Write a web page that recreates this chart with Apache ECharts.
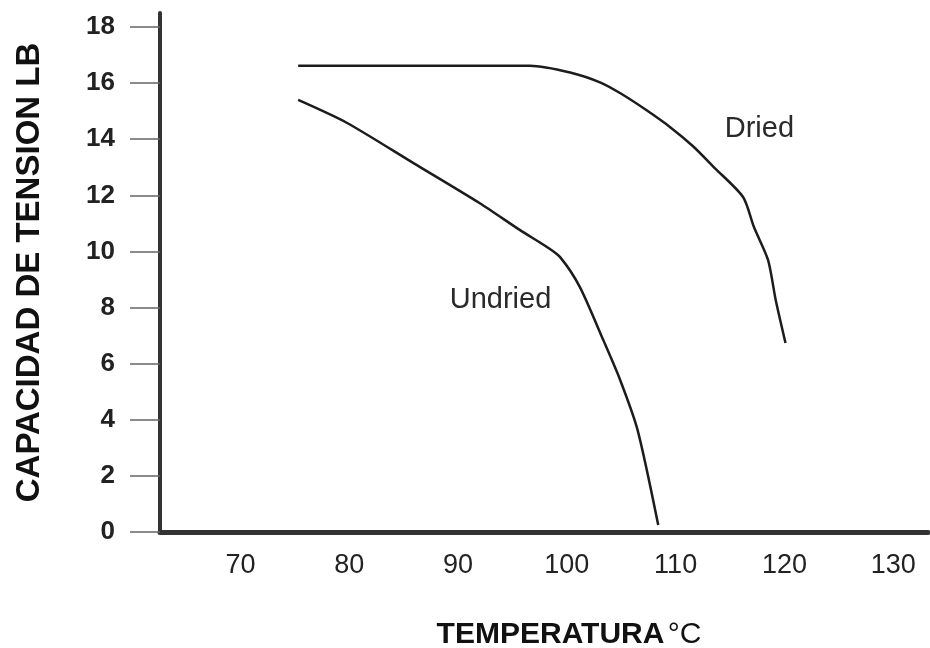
<!DOCTYPE html>
<html>
<head>
<meta charset="utf-8">
<script src="https://cdn.jsdelivr.net/npm/echarts@6/dist/echarts.min.js"></script>
<style>html,body{margin:0;padding:0;background:#fff;}#c{width:930px;height:648px;}</style>
</head>
<body>
<div id="c"></div>
<script>
// Tick labels
const xTicks = [70, 80, 90, 100, 110, 120, 130];
const yTicks = [0, 2, 4, 6, 8, 10, 12, 14, 16, 18];

// Dried curve (temperature °C, capacity lb)
const driedX = [75.3, 85, 96.6, 100.3, 103.1, 105.0, 107.3, 109.5, 111.6, 113.5, 116.2, 117.2, 118.5, 119.2, 120.1];
const driedY = [16.62, 16.62, 16.62, 16.38, 16.02, 15.62, 15.04, 14.43, 13.75, 13.01, 11.94, 10.87, 9.69, 8.27, 6.74];

// Undried curve
const undriedX = [75.3, 79.8, 85.9, 92.0, 95.7, 98.2, 99.4, 101.2, 103.35, 104.9, 106.5, 108.4];
const undriedY = [15.40, 14.58, 13.15, 11.72, 10.76, 10.15, 9.79, 8.73, 6.84, 5.42, 3.64, 0.25];

// Curve annotations
const labelDried = { text: 'Dried', x: 117.7, y: 14.36 };
const labelUndried = { text: 'Undried', x: 93.9, y: 8.27 };

const zip = (xs, ys) => xs.map((x, i) => [x, ys[i]]);

const chart = echarts.init(document.getElementById('c'), null, { renderer: 'canvas' });
const FONT = '"Liberation Sans", Arial, Helvetica, sans-serif';

function annot(l) {
  return {
    symbol: 'circle',
    symbolSize: 2,
    silent: true,
    itemStyle: { color: 'rgba(0,0,0,0)' },
    label: {
      show: true, position: 'inside', formatter: l.text,
      fontFamily: FONT, fontSize: 29, color: '#2a2a2a'
    },
    data: [{ coord: [l.x, l.y], value: l.text }]
  };
}

chart.setOption({
  backgroundColor: '#ffffff',
  animation: false,
  grid: { left: 160, top: 13, width: 768, height: 519, containLabel: false, outerBoundsMode: 'none' },
  xAxis: {
    type: 'value', min: 62.6, max: 133.2,
    name: '{b|TEMPERATURA} {n|°C}',
    nameLocation: 'middle', nameGap: 88,
    nameTextStyle: {
      padding: [0, 0, 0, 50],
      rich: {
        b: { fontFamily: FONT, fontWeight: 'bold', fontSize: 30, color: '#111' },
        n: { fontFamily: FONT, fontWeight: 'normal', fontSize: 30, color: '#111' }
      }
    },
    splitLine: { show: false },
    axisLine: { show: true, onZero: false, lineStyle: { color: '#333', width: 5 } },
    axisTick: { show: false },
    axisLabel: {
      customValues: xTicks, margin: 20,
      fontFamily: FONT, fontSize: 27, color: '#222'
    }
  },
  yAxis: {
    type: 'value', min: 0, max: 18.5,
    name: 'CAPACIDAD DE TENSION LB',
    nameLocation: 'middle', nameGap: 114, nameRotate: 90,
    nameTextStyle: { fontFamily: FONT, fontWeight: 'bold', fontSize: 33, color: '#111' },
    splitLine: { show: false },
    axisLine: { show: true, onZero: false, lineStyle: { color: '#333', width: 4 } },
    axisTick: { show: true, customValues: yTicks, inside: false, length: 30, lineStyle: { color: '#666', width: 1.5 } },
    axisLabel: {
      customValues: yTicks, margin: 45,
      fontFamily: FONT, fontSize: 26, fontWeight: 'bold', color: '#222'
    }
  },
  series: [
    {
      name: 'Dried', type: 'line', data: zip(driedX, driedY),
      showSymbol: false, smooth: 0.25,
      lineStyle: { color: '#1c1c1c', width: 2.5 },
      markPoint: annot(labelDried)
    },
    {
      name: 'Undried', type: 'line', data: zip(undriedX, undriedY),
      showSymbol: false, smooth: 0.25,
      lineStyle: { color: '#1c1c1c', width: 2.5 },
      markPoint: annot(labelUndried)
    }
  ]
});
</script>
</body>
</html>
